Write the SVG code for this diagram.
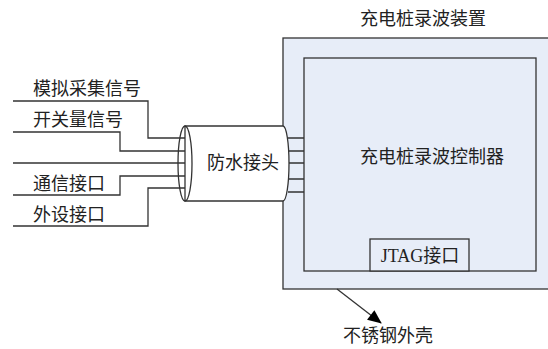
<svg xmlns="http://www.w3.org/2000/svg" width="548" height="349" viewBox="0 0 548 349">
<style>
.ln{fill:none;stroke:#333;stroke-width:1.3}
.box{fill:#e7edf8;stroke:#333;stroke-width:1.3}
.t{font-family:"Liberation Serif","Noto Sans CJK SC",serif;font-size:18px;fill:#222}
</style>
<defs>
<marker id="ah" viewBox="0 0 14 12" refX="13" refY="6" markerWidth="14" markerHeight="12" markerUnits="userSpaceOnUse" orient="auto" overflow="visible">
<path d="M0,0 L14,6 L0,12 z" fill="#000" stroke="none"/>
</marker>
</defs>
<rect width="548" height="349" fill="#fff"/>
<g id="device">
<rect class="box" x="283" y="38" width="270" height="251"/>
<text class="t" x="423" y="25" text-anchor="middle">充电桩录波装置</text>
</g>
<g id="controller">
<rect class="box" x="304" y="58" width="232" height="213"/>
<text class="t" x="432" y="163" text-anchor="middle">充电桩录波控制器</text>
</g>
<g id="jtag">
<rect class="box" x="370" y="239" width="99" height="32"/>
<text class="t" x="420" y="262" text-anchor="middle">JTAG接口</text>
</g>
<g id="connectors">
<path class="ln" d="M13,101 H148 V138 H187"/>
<path class="ln" d="M13,132 H120 V151 H187"/>
<path class="ln" d="M13,163 H187"/>
<path class="ln" d="M13,195 H120 V176 H187"/>
<path class="ln" d="M13,226 H148 V188 H187"/>
<path class="ln" d="M288,138 H304 M289,151 H304 M289,163 H304 M289,179 H304 M288,192 H304"/>
<line class="ln" x1="337" y1="289" x2="381" y2="323" marker-end="url(#ah)"/>
</g>
<g id="connector-joint">
<path d="M185,126 H283 A6,37.5 0 0 1 283,201 H185 Z" fill="#fff" stroke="#333" stroke-width="1.3"/>
<ellipse cx="185" cy="163.5" rx="7" ry="37.5" fill="none" stroke="#333" stroke-width="1.3"/>
<text class="t" x="243" y="169" text-anchor="middle">防水接头</text>
</g>
<g id="labels">
<text class="t" x="33" y="95">模拟采集信号</text>
<text class="t" x="33" y="126">开关量信号</text>
<text class="t" x="33" y="190">通信接口</text>
<text class="t" x="33" y="221">外设接口</text>
<text class="t" x="388" y="342" text-anchor="middle">不锈钢外壳</text>
</g>
</svg>
